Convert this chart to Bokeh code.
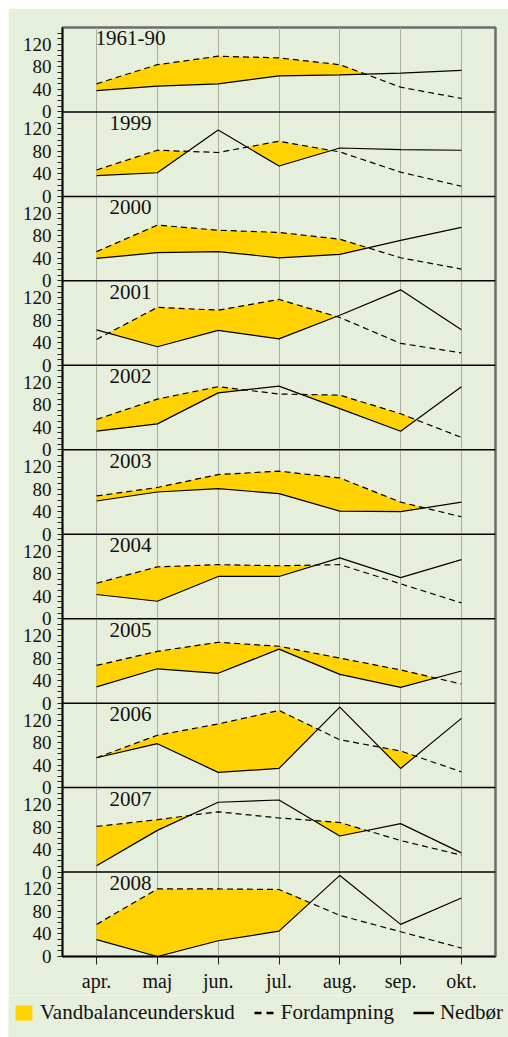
import numpy as np
from bokeh.plotting import figure
from bokeh.layouts import column
from bokeh.models import FixedTicker, Span, Legend, LegendItem, ColumnDataSource
from bokeh.core.properties import value
from bokeh.embed import file_html
from bokeh.resources import INLINE

months = ["apr.", "maj", "jun.", "jul.", "aug.", "sep.", "okt."]
panels = ["1961-90", "1999", "2000", "2001", "2002", "2003", "2004", "2005", "2006", "2007", "2008"]

evap_1961 = [50, 84, 99, 96, 84, 44, 24]
prec_1961 = [38, 46, 50, 64, 66, 69, 74]
evap_1999 = [47, 82, 78, 98, 79, 43, 18]
prec_1999 = [37, 42, 118, 54, 86, 83, 82]
evap_2000 = [52, 99, 90, 86, 74, 41, 21]
prec_2000 = [40, 50, 52, 41, 47, 72, 95]
evap_2001 = [46, 103, 98, 117, 85, 39, 22]
prec_2001 = [63, 33, 62, 47, 89, 134, 63]
evap_2002 = [54, 90, 112, 99, 97, 64, 22]
prec_2002 = [33, 46, 101, 113, 73, 33, 112]
evap_2003 = [68, 83, 106, 112, 100, 57, 31]
prec_2003 = [59, 75, 81, 72, 41, 40, 57]
evap_2004 = [63, 92, 96, 94, 96, 62, 28]
prec_2004 = [43, 31, 75, 75, 108, 73, 105]
evap_2005 = [67, 92, 108, 101, 80, 59, 34]
prec_2005 = [29, 61, 53, 96, 51, 28, 57]
evap_2006 = [53, 93, 113, 137, 85, 65, 28]
prec_2006 = [53, 78, 27, 34, 143, 34, 123]
evap_2007 = [81, 93, 107, 96, 88, 56, 30]
prec_2007 = [11, 74, 124, 128, 64, 86, 34]
evap_2008 = [57, 120, 120, 119, 73, 44, 15]
prec_2008 = [30, 0, 28, 45, 144, 57, 104]

evap_all = [evap_1961, evap_1999, evap_2000, evap_2001, evap_2002, evap_2003,
            evap_2004, evap_2005, evap_2006, evap_2007, evap_2008]
prec_all = [prec_1961, prec_1999, prec_2000, prec_2001, prec_2002, prec_2003,
            prec_2004, prec_2005, prec_2006, prec_2007, prec_2008]

SPAN = 150
N = len(panels)
FONT = "Liberation Serif"
BG = "#e6efdb"
YELLOW = "#ffd200"
TXT = "#111111"

p = figure(width=500, height=987, output_backend="svg", toolbar_location=None,
           x_range=(-0.56, 6.56), y_range=(0, SPAN * N),
           min_border_left=54, min_border_right=13, min_border_top=19, min_border_bottom=39)
p.background_fill_color = BG
p.border_fill_color = BG
p.outline_line_color = "#6b6b6b"
p.outline_line_width = 2.5

xs = np.arange(len(months), dtype=float)


def deficit(ev, pr):
    ev = np.asarray(ev, float)
    pr = np.asarray(pr, float)
    X, lo, hi = [], [], []
    for i in range(len(ev)):
        X.append(xs[i]); lo.append(pr[i]); hi.append(max(ev[i], pr[i]))
        if i < len(ev) - 1:
            d0 = ev[i] - pr[i]
            d1 = ev[i + 1] - pr[i + 1]
            if d0 * d1 < 0:
                t = d0 / (d0 - d1)
                xc = xs[i] + t
                yc = pr[i] + t * (pr[i + 1] - pr[i])
                X.append(xc); lo.append(yc); hi.append(yc)
    return np.array(X), np.array(lo), np.array(hi)


for k in range(N):
    off = (N - 1 - k) * SPAN
    X, lo, hi = deficit(evap_all[k], prec_all[k])
    p.varea(x=X, y1=lo + off, y2=hi + off, fill_color=YELLOW)
    p.line(xs, np.asarray(evap_all[k]) + off, line_color="black", line_width=1.2, line_dash="6 4")
    p.line(xs, np.asarray(prec_all[k]) + off, line_color="black", line_width=1.2)
    if k > 0:
        p.add_layout(Span(location=off + SPAN, dimension="width", line_color="black", line_width=1.5))
    p.text(x=[0.56], y=[off + SPAN - 7], text=[panels[k]], text_font=value(FONT),
           text_font_size="21px", text_align="center", text_baseline="top", text_color=TXT)

# y axis ticks
majors, minors, overrides = [], [], {}
for k in range(N):
    off = k * SPAN
    for v in range(0, SPAN, 10):
        if v % 40 == 0:
            majors.append(off + v)
            overrides[off + v] = str(v)
        else:
            minors.append(off + v)
p.yaxis.ticker = FixedTicker(ticks=majors, minor_ticks=minors)
p.yaxis.major_label_overrides = overrides
p.yaxis.major_tick_in = 0
p.yaxis.major_tick_out = 5
p.yaxis.minor_tick_in = 0
p.yaxis.minor_tick_out = 5
p.yaxis.major_label_standoff = 6
p.yaxis.major_label_text_font = FONT
p.yaxis.major_label_text_font_size = "19px"
p.yaxis.major_label_text_color = TXT
p.yaxis.axis_line_color = "black"
p.yaxis.axis_line_width = 1.5
p.yaxis.major_tick_line_color = "#222222"
p.yaxis.minor_tick_line_color = "#222222"
p.ygrid.visible = False

xt = FixedTicker(ticks=list(range(len(months))))
p.xaxis.ticker = xt
p.xaxis.major_label_overrides = {i: m for i, m in enumerate(months)}
p.xaxis.major_tick_in = 0
p.xaxis.major_tick_out = 8
p.xaxis.minor_tick_line_color = None
p.xaxis.major_label_standoff = 5
p.xaxis.major_label_text_font = FONT
p.xaxis.major_label_text_font_size = "20px"
p.xaxis.major_label_text_color = TXT
p.xaxis.axis_line_color = "black"
p.xaxis.axis_line_width = 1.5
p.xaxis.major_tick_line_color = "#222222"
p.xgrid.ticker = xt
p.xgrid.grid_line_color = "#a9ae9f"
p.xgrid.grid_line_width = 1

# legend strip
leg = figure(width=500, height=42, output_backend="svg", toolbar_location=None,
             x_range=(0, 1), y_range=(0, 1), min_border=0)
leg.frame_align = False
leg.background_fill_color = BG
leg.border_fill_color = BG
leg.outline_line_color = None
leg.axis.visible = False
leg.grid.visible = False
hidden = ColumnDataSource(data=dict(x=[-5, -4], y=[-5, -5], y1=[-6, -6], y2=[-5, -5]))
r_area = leg.varea(x="x", y1="y1", y2="y2", source=hidden, fill_color=YELLOW)
r_dash = leg.line(x="x", y="y", source=hidden, line_color="black", line_width=2.5, line_dash="7 5")
r_line = leg.line(x="x", y="y", source=hidden, line_color="black", line_width=2.5)
legend = Legend(items=[LegendItem(label="Vandbalanceunderskud", renderers=[r_area]),
                       LegendItem(label="Fordampning", renderers=[r_dash]),
                       LegendItem(label="Nedbør", renderers=[r_line])],
                orientation="horizontal", location=(5, 12),
                glyph_width=21, glyph_height=19, label_height=19, label_standoff=6,
                spacing=19, padding=0, margin=0, border_line_color=None,
                background_fill_alpha=0, label_text_font=FONT, label_text_font_size="21px",
                label_text_color=TXT, label_text_baseline="middle")
leg.add_layout(legend, "center")

layout = column(p, leg, spacing=0, margin=(8, 0, 0, 8))
open("out.html", "w").write(file_html(layout, INLINE))
